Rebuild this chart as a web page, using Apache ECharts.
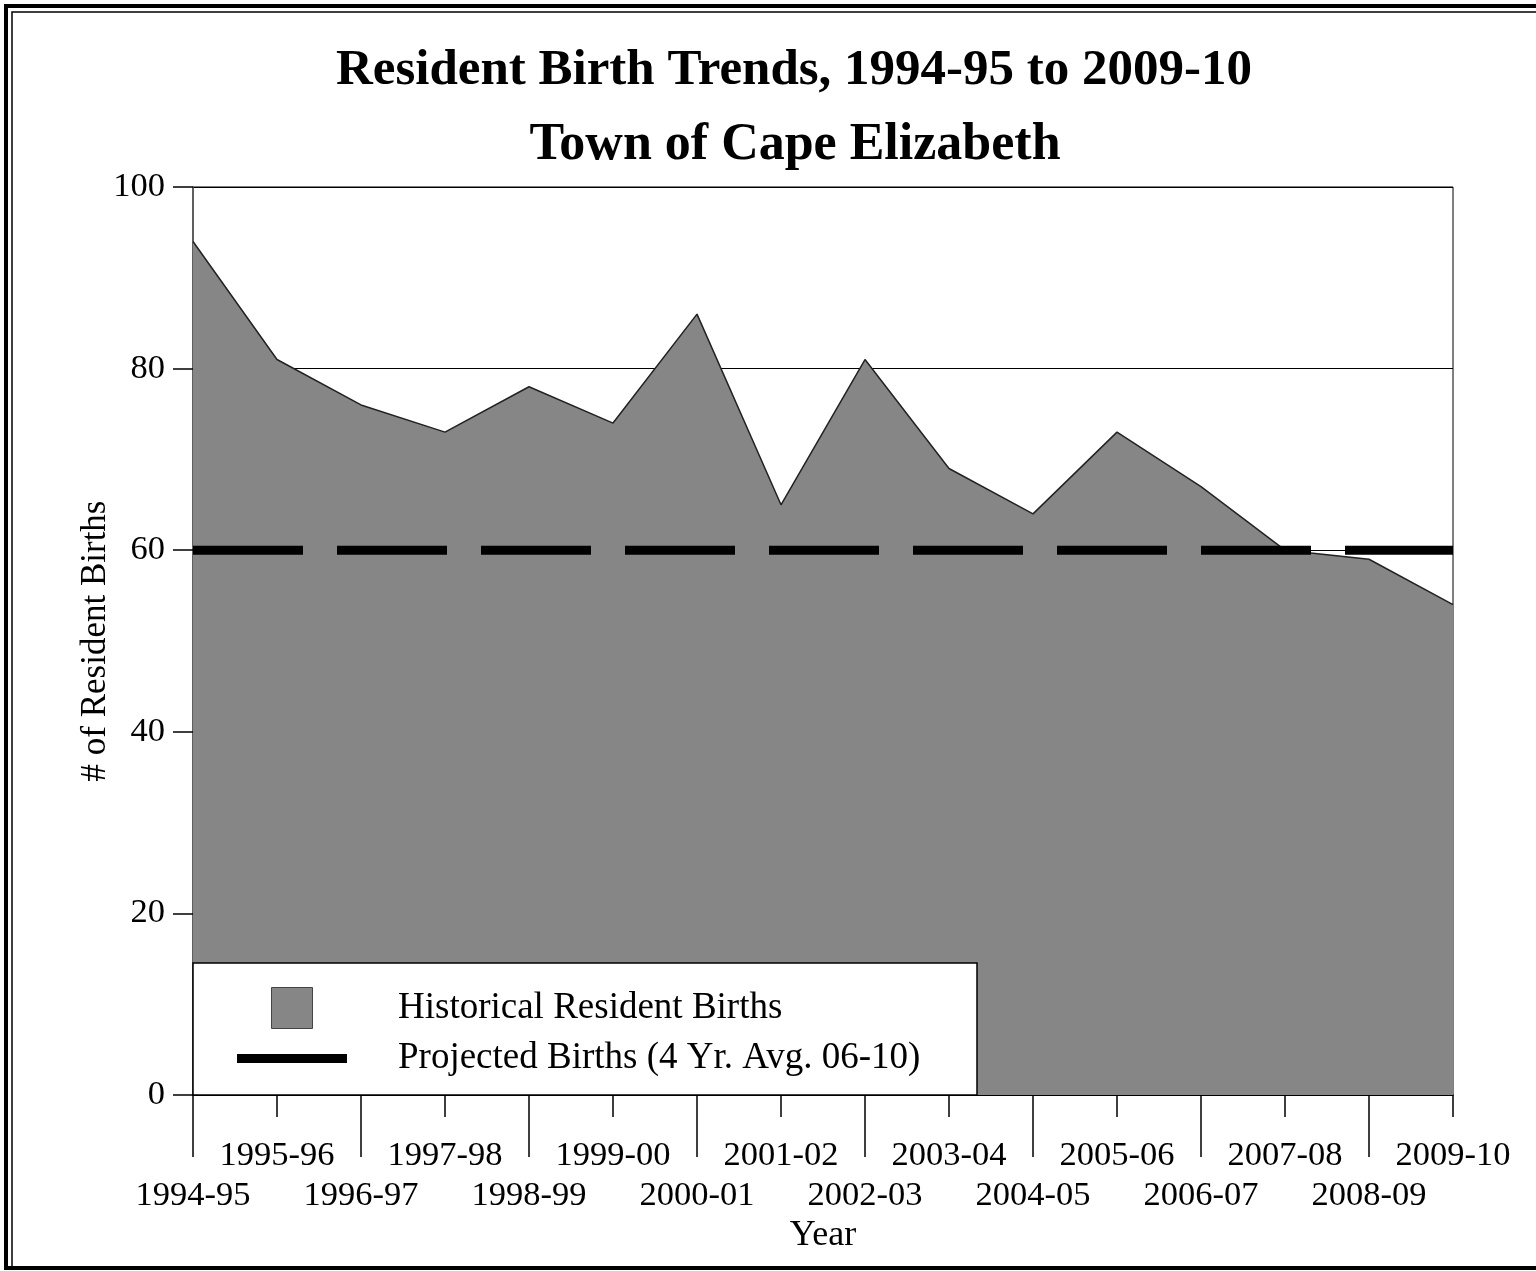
<!DOCTYPE html>
<html>
<head>
<meta charset="utf-8">
<title>Resident Birth Trends</title>
<script src="https://cdn.jsdelivr.net/npm/echarts@6/dist/echarts.min.js"></script>
<style>
  html, body { margin: 0; padding: 0; background: #fff; }
  #chart { width: 1536px; height: 1271px; }
</style>
</head>
<body>
<div id="chart"></div>
<script>
// School years on the x axis
const years = [
  '1994-95', '1995-96', '1996-97', '1997-98', '1998-99', '1999-00',
  '2000-01', '2001-02', '2002-03', '2003-04', '2004-05', '2005-06',
  '2006-07', '2007-08', '2008-09', '2009-10'
];

// Historical resident births per year
const historicalBirths = [94, 81, 76, 73, 78, 74, 86, 65, 81, 69, 64, 73, 67, 60, 59, 54];

// Projected births (4-year average, 06-10)
const projectedBirths = [60, 60, 60, 60, 60, 60, 60, 60, 60, 60, 60, 60, 60, 60, 60, 60];

const yTicks = [0, 20, 40, 60, 80, 100];

const FONT = '"Liberation Serif", "Times New Roman", serif';
const AREA_GREY = '#868686';

const chart = echarts.init(document.getElementById('chart'), null, { renderer: 'canvas' });

const isEven = (i) => i % 2 === 0;
const isOdd = (i) => i % 2 === 1;

const option = {
  animation: false,
  backgroundColor: '#fff',
  textStyle: { fontFamily: FONT, color: '#000' },
  title: [
    {
      text: 'Resident Birth Trends, 1994-95 to 2009-10',
      left: 789, top: 40, textAlign: 'center',
      textStyle: { fontFamily: FONT, fontWeight: 'bold', fontSize: 51, color: '#000' }
    },
    {
      text: 'Town of Cape Elizabeth',
      left: 790, top: 115, textAlign: 'center',
      textStyle: { fontFamily: FONT, fontWeight: 'bold', fontSize: 52, color: '#000' }
    }
  ],
  grid: {
    left: 193, right: 83, top: 187, bottom: 176,
    show: true, borderColor: '#000', borderWidth: 1, backgroundColor: 'transparent'
  },
  legend: {
    orient: 'vertical',
    left: 237, top: 987,
    padding: 0,
    itemWidth: 110, itemHeight: 41, itemGap: 11,
    symbolKeepAspect: true,
    z: 60,
    selectedMode: false,
    textStyle: { fontFamily: FONT, fontSize: 37, color: '#000', padding: [0, 0, 0, 46] },
    data: [
      {
        name: 'Historical Resident Births',
        icon: 'path://M0,0L1,0L1,1L0,1Z',
        itemStyle: { color: AREA_GREY, borderColor: '#444', borderWidth: 1 }
      },
      {
        name: 'Projected Births (4 Yr. Avg. 06-10)',
        icon: 'path://M0,0L110,0L110,9L0,9Z',
        itemStyle: { color: '#000' }
      }
    ]
  },
  xAxis: [
    {
      type: 'category',
      data: years,
      boundaryGap: false,
      position: 'bottom',
      axisLine: { show: true, lineStyle: { color: '#000', width: 1.5 } },
      axisTick: { show: true, interval: isEven, length: 62, lineStyle: { color: '#000', width: 1.5 } },
      axisLabel: {
        interval: isEven, margin: 83, fontFamily: FONT, fontSize: 34.5, color: '#000'
      },
      splitLine: { show: false },
      name: 'Year',
      nameLocation: 'middle',
      nameGap: 120,
      nameTextStyle: { fontFamily: FONT, fontSize: 36, color: '#000' }
    },
    {
      type: 'category',
      data: years,
      boundaryGap: false,
      position: 'bottom',
      axisLine: { show: false },
      axisTick: { show: true, interval: isOdd, length: 22, lineStyle: { color: '#000', width: 1.5 } },
      axisLabel: {
        interval: isOdd, margin: 43, fontFamily: FONT, fontSize: 34.5, color: '#000'
      },
      splitLine: { show: false }
    }
  ],
  yAxis: {
    type: 'value',
    min: yTicks[0],
    max: yTicks[yTicks.length - 1],
    interval: 20,
    axisLine: { show: true, lineStyle: { color: '#555', width: 1.5 } },
    axisTick: { show: true, length: 20, lineStyle: { color: '#000', width: 1.5 } },
    axisLabel: { margin: 28, fontFamily: FONT, fontSize: 34.5, color: '#000' },
    splitLine: { show: true, lineStyle: { color: '#000', width: 1 } },
    name: '# of Resident Births',
    nameLocation: 'middle',
    nameMoveOverlap: false,
    nameGap: 80,
    nameRotate: 90,
    nameTextStyle: { fontFamily: FONT, fontSize: 35, color: '#000' }
  },
  series: [
    {
      name: 'Historical Resident Births',
      type: 'line',
      data: historicalBirths,
      xAxisIndex: 0,
      symbol: 'none',
      smooth: false,
      color: AREA_GREY,
      lineStyle: { color: '#222', width: 1.5 },
      areaStyle: { color: AREA_GREY, opacity: 1 },
      z: 2
    },
    {
      name: 'Projected Births (4 Yr. Avg. 06-10)',
      type: 'line',
      data: projectedBirths,
      xAxisIndex: 0,
      symbol: 'none',
      color: '#000',
      itemStyle: { color: '#000' },
      lineStyle: { color: '#000', width: 9, type: [110, 34], cap: 'butt' },
      z: 3
    }
  ],
  graphic: [
    // legend panel
    {
      type: 'rect', z: 50,
      shape: { x: 193, y: 963, width: 784, height: 132 },
      style: { fill: '#fff', stroke: '#000', lineWidth: 1.5 }
    },
    // double page frame (runs off the right edge)
    {
      type: 'rect', z: 1, silent: true,
      shape: { x: 6, y: 6, width: 1700, height: 1262 },
      style: { fill: 'none', stroke: '#000', lineWidth: 4 }
    },
    {
      type: 'rect', z: 1, silent: true,
      shape: { x: 12, y: 12, width: 1700, height: 1256 },
      style: { fill: 'none', stroke: '#000', lineWidth: 1.5 }
    }
  ]
};

chart.setOption(option);
</script>
</body>
</html>
